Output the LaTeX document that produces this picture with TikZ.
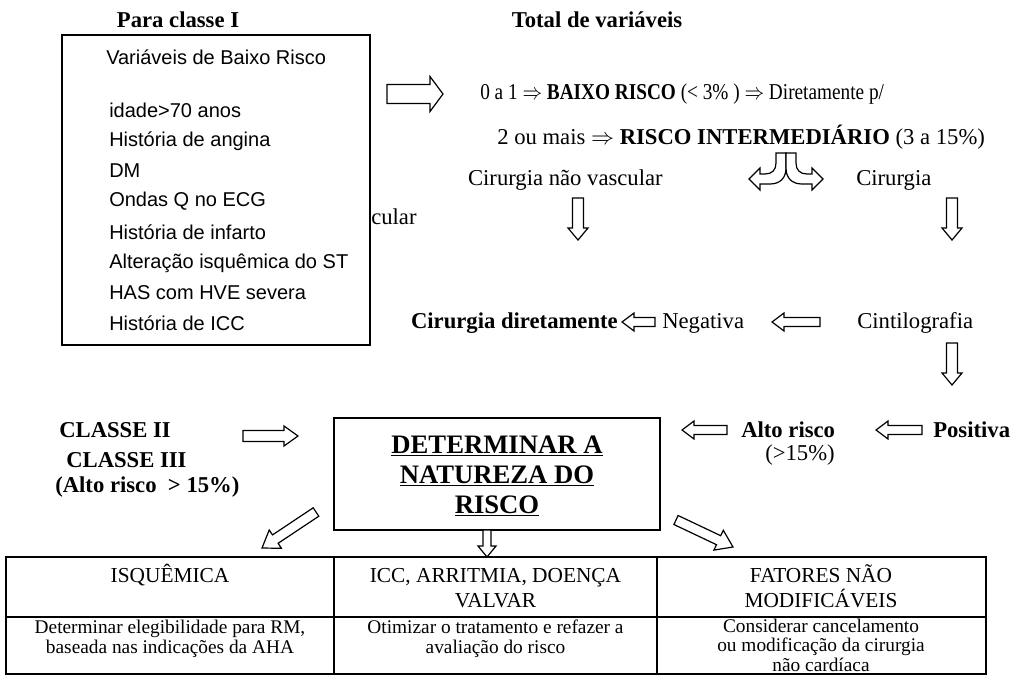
\documentclass[tikz,border=0pt]{standalone}
\usepackage{graphicx}
\usepackage{fontspec}
\setmainfont{Liberation Serif}
\newfontfamily\sansf{Liberation Sans}
\newcommand\msz{\fontsize{17}{19}\selectfont}
\newcommand\arrH[6]{\draw[blk] (#1,#3-#4) -- (#6,#3-#4) -- (#6,#3-#5) -- (#2,#3) -- (#6,#3+#5) -- (#6,#3+#4) -- (#1,#3+#4) -- cycle;}
\newcommand\arrV[6]{\draw[blk] (#1-#4,#2) -- (#1-#4,#6) -- (#1-#5,#6) -- (#1,#3) -- (#1+#5,#6) -- (#1+#4,#6) -- (#1+#4,#2) -- cycle;}
\begin{document}
\begin{tikzpicture}[x=0.75pt,y=-0.75pt,
  blk/.style={draw, line width=0.9pt, fill=white, line join=miter},
  frame/.style={draw, line width=1.2pt, inner sep=0pt},
  lbl/.style={inner sep=0pt, anchor=west, font=\msz},
  blbl/.style={inner sep=0pt, anchor=west, font=\msz\bfseries},
  bt/.style={inner sep=0pt, font=\msz\bfseries},
  boxtxt/.style={inner sep=0pt, anchor=west, font=\sansf\fontsize{15}{18}\selectfont},
  hd/.style={inner sep=0pt, anchor=base, align=center, font=\fontsize{16}{18.75}\selectfont},
  bd/.style={inner sep=0pt, anchor=base, align=center, font=\fontsize{14.5}{14.4}\selectfont},
  tbl/.style={line width=1.2pt}]
\useasboundingbox (0,0) rectangle (1016,675);

% titles
\node[bt] (pc) at (178,20) {Para classe I};
\node[bt] (tv) at (597,20) {Total de variáveis};

% low-risk variables box
\node[frame, minimum width=231pt, minimum height=232.5pt] (vbox) at (216,190) {};
\node[boxtxt] (v0) at (106,57) {Variáveis de Baixo Risco};
\node[boxtxt] (v1) at (109,110) {idade>70 anos};
\node[boxtxt] (v2) at (109,141) {História de angina};
\node[boxtxt] (v3) at (109,171) {DM};
\node[boxtxt] (v4) at (109,201) {Ondas Q no ECG};
\node[boxtxt] (v5) at (109,232) {História de infarto};
\node[boxtxt] (v6) at (109,263) {Alteração isquêmica do ST};
\node[boxtxt] (v7) at (109,293) {HAS com HVE severa};
\node[boxtxt] (v8) at (109,323) {História de ICC};
\node[lbl] (cul) at (371,217) {cular};

% top right
\arrH{387}{443}{94}{9.5}{17.5}{430}
\node[lbl] (l1) at (480,94) {\scalebox{0.85}[1]{0 a 1 $\Rightarrow$ \textbf{BAIXO RISCO} (< 3\% ) $\Rightarrow$ Diretamente p/}};
\node[lbl] (l2) at (497,137) {2 ou mais $\Rightarrow$ \textbf{RISCO INTERMEDIÁRIO} (3 a 15\%)};

% split arrow
\draw[blk] (786,153) -- (776,153) -- (776,163) .. controls (776,170) and (772,174) .. (765,174) -- (760,174) -- (760,168) -- (749,179) -- (760,190) -- (760,184) -- (770,184) .. controls (780,184) and (786,178) .. (786,168) -- cycle;
\draw[blk] (786,153) -- (796,153) -- (796,163) .. controls (796,170) and (800,174) .. (807,174) -- (812,174) -- (812,168) -- (823,179) -- (812,190) -- (812,184) -- (802,184) .. controls (792,184) and (786,178) .. (786,168) -- cycle;

\node[lbl, anchor=east] (cnv) at (663,180) {Cirurgia não vascular};
\node[lbl] (cv) at (856,180) {Cirurgia};
\arrV{578}{198}{240}{5.5}{10}{228}
\arrV{952}{198}{240}{5.5}{10}{228}

% scintigraphy row
\node[blbl, anchor=east] (cd) at (618,323) {Cirurgia diretamente};
\arrH{655}{622}{322}{4.5}{9}{634}
\node[lbl] (neg) at (662,323) {Negativa};
\arrH{820}{772}{322}{4.5}{9}{784}
\node[lbl] (cin) at (857,323) {Cintilografia};
\arrV{952}{343}{385}{5.5}{10}{373}

% positive row
\node[blbl] (pos) at (933,430) {Positiva};
\arrH{922}{876}{430}{4.5}{9}{888}
\node[blbl] (ar) at (741,430) {Alto risco};
\node[lbl] (ar2) at (765,455) {(>15\%)};
\arrH{727}{682}{430}{4.5}{9}{694}

% central box
\node[frame, minimum width=244.5pt, minimum height=84pt] (det) at (497,474) {};
\node[bt, align=center, font=\fontsize{20}{22.5}\selectfont\bfseries] (dett) at (497,476) {\underline{DETERMINAR A}\\\underline{NATUREZA DO}\\\underline{RISCO}};

% classes
\node[blbl] (c2) at (59,430) {CLASSE II};
\node[blbl] (c3) at (66,460) {CLASSE III};
\node[blbl] (c4) at (55,487) {(Alto risco \ > 15\%)};
\arrH{243}{298}{436}{5.5}{10}{284}

% arrows to table
\draw[blk] (318.8,516.2) -- (313.2,507.8) -- (272.5,534.9) -- (269.2,530.0) -- (262,548) -- (281.4,548.3) -- (278.1,543.3) -- cycle;
\draw[blk] (678.1,515.5) -- (720.7,535.7) -- (723.3,530.3) -- (733,547) -- (713.9,550.1) -- (716.5,544.7) -- (673.9,524.5) -- cycle;
\arrV{487}{530}{557}{4}{9}{546}

% table
\draw[tbl] (6,557) rectangle (986,674);
\draw[tbl] (334,557) -- (334,674);
\draw[tbl] (657,557) -- (657,674);
\draw[tbl] (6,617) -- (986,617);
\node[hd] (h1) at (170,582) {ISQUÊMICA};
\node[hd] (h2) at (495.5,607) {ICC, ARRITMIA, DOENÇA\\VALVAR};
\node[hd] (h3) at (821,607) {FATORES NÃO\\MODIFICÁVEIS};
\node[bd] (b1) at (170,653) {Determinar elegibilidade para RM,\\baseada nas indicações da AHA};
\node[bd] (b2) at (495.5,653) {Otimizar o tratamento e refazer a\\avaliação do risco};
\node[bd] (b3) at (821,671) {Considerar cancelamento\\ou modificação da cirurgia\\não cardíaca};
\end{tikzpicture}
\end{document}
